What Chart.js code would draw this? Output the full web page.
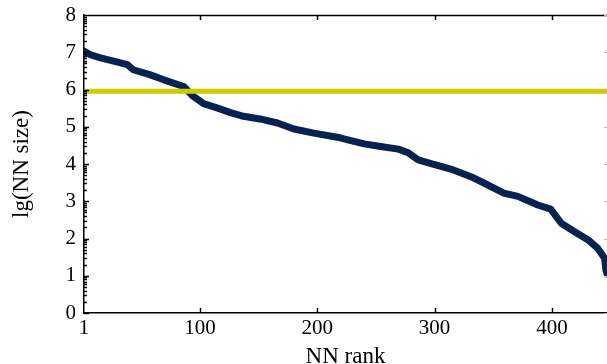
<!DOCTYPE html>
<html>
<head>
<meta charset="utf-8">
<script src="https://cdn.jsdelivr.net/npm/chart.js@4"></script>
<style>
  html, body { margin: 0; padding: 0; background: #fff; }
  #wrap { width: 607px; height: 364px; position: relative; }
</style>
</head>
<body>
<div id="wrap"><canvas id="nn-chart"></canvas></div>
<script>
// NN rank vs lg(NN size)
var nnRank = [1, 6, 15, 28, 38, 43, 57, 69, 86, 94, 103, 115, 126, 137, 151, 166, 180, 197, 217, 226,
  240, 254, 269, 277, 286, 297, 316, 331, 342, 359, 371, 388, 399, 408, 419, 431, 439, 445, 446, 447];
var lgSize = [7.03, 6.94, 6.85, 6.75, 6.67, 6.53, 6.40, 6.26, 6.08, 5.82, 5.62, 5.50, 5.38, 5.28, 5.21, 5.10, 4.94, 4.83, 4.72, 4.65,
  4.54, 4.47, 4.40, 4.31, 4.11, 4.01, 3.84, 3.66, 3.49, 3.22, 3.13, 2.90, 2.79, 2.41, 2.19, 1.96, 1.74, 1.47, 1.16, 1.05];

// horizontal threshold line
var thresholdX = [1, 447];
var thresholdY = [5.95, 5.95];

var xTicks = [1, 100, 200, 300, 400];
var yTicks = [0, 1, 2, 3, 4, 5, 6, 7, 8];

var serif = '"Liberation Serif", "DejaVu Serif", serif';

function toPoints(xs, ys) {
  return xs.map(function (x, i) {
    return { x: x, y: ys[i] };
  });
}

// inward tick marks, log-style minor ticks on the left, top frame line
var axisTicks = {
  id: 'axisTicks',
  afterDatasetsDraw: function (chart) {
    var ctx = chart.ctx;
    var area = chart.chartArea;
    var xs = chart.scales.x;
    var ys = chart.scales.y;

    ctx.save();
    ctx.strokeStyle = '#000';
    ctx.lineWidth = 1.5;
    ctx.beginPath();
    ctx.moveTo(area.left, area.top + 0.5);
    ctx.lineTo(area.right, area.top + 0.5);

    xTicks.forEach(function (v) {
      if (v === xs.min) {
        return;
      }
      var px = Math.round(xs.getPixelForValue(v)) + 0.5;
      ctx.moveTo(px, area.bottom);
      ctx.lineTo(px, area.bottom - 5);
      ctx.moveTo(px, area.top);
      ctx.lineTo(px, area.top + 5);
    });

    yTicks.forEach(function (v) {
      var py = Math.round(ys.getPixelForValue(v)) + 0.5;
      ctx.moveTo(area.left, py);
      ctx.lineTo(area.left + 5, py);
      if (v === 0) {
        return;
      }
      for (var k = 2; k <= 9; k++) {
        var my = Math.round(ys.getPixelForValue(v - 1 + Math.log10(k))) + 0.5;
        ctx.moveTo(area.left, my);
        ctx.lineTo(area.left + 3, my);
      }
    });
    ctx.stroke();

    // faint ticks along the cropped right side
    ctx.strokeStyle = '#bbbbbb';
    ctx.lineWidth = 1;
    ctx.beginPath();
    yTicks.forEach(function (v) {
      var py = Math.round(ys.getPixelForValue(v)) + 0.5;
      ctx.moveTo(area.right, py);
      ctx.lineTo(area.right - 3, py);
    });
    ctx.stroke();
    ctx.restore();
  }
};

new Chart(document.getElementById('nn-chart'), {
  type: 'line',
  data: {
    datasets: [
      {
        label: 'threshold',
        data: toPoints(thresholdX, thresholdY),
        borderColor: '#cccc00',
        borderWidth: 5,
        pointRadius: 0,
        fill: false,
        order: 0,
        clip: 0
      },
      {
        label: 'NN size',
        data: toPoints(nnRank, lgSize),
        borderColor: '#06224f',
        borderWidth: 7,
        borderJoinStyle: 'round',
        borderCapStyle: 'round',
        pointRadius: 0,
        tension: 0,
        fill: false,
        order: 1,
        clip: 0
      }
    ]
  },
  options: {
    responsive: true,
    maintainAspectRatio: false,
    animation: false,
    layout: {
      padding: { top: 15, right: 0, left: 0, bottom: 0 }
    },
    plugins: {
      legend: { display: false },
      tooltip: { enabled: false }
    },
    scales: {
      x: {
        type: 'linear',
        min: 1,
        max: 447,
        afterBuildTicks: function (axis) {
          axis.ticks = xTicks.map(function (v) { return { value: v }; });
        },
        afterFit: function (scale) {
          scale.height = 51;
          scale.paddingRight = 0;
        },
        grid: { display: false, drawTicks: false },
        border: { display: true, color: '#000', width: 1.5 },
        ticks: {
          color: '#000',
          padding: 3,
          maxRotation: 0,
          autoSkip: false,
          font: { family: serif, size: 21 }
        },
        title: {
          display: true,
          text: 'NN rank',
          color: '#000',
          padding: { top: 0, bottom: 0 },
          font: { family: serif, size: 23, lineHeight: 0.6 }
        }
      },
      y: {
        type: 'linear',
        min: 0,
        max: 8,
        afterBuildTicks: function (axis) {
          axis.ticks = yTicks.map(function (v) { return { value: v }; });
        },
        afterFit: function (scale) {
          scale.width = 84;
          scale.paddingTop = 0;
          scale.paddingBottom = 0;
        },
        grid: { display: false, drawTicks: false },
        border: { display: true, color: '#000', width: 1.5 },
        ticks: {
          color: '#000',
          padding: 8,
          autoSkip: false,
          font: { family: serif, size: 21 }
        },
        title: {
          display: true,
          text: 'lg(NN size)',
          color: '#000',
          padding: { top: 10, bottom: 0 },
          font: { family: serif, size: 23, lineHeight: 1 }
        }
      }
    }
  },
  plugins: [axisTicks]
});
</script>
</body>
</html>
